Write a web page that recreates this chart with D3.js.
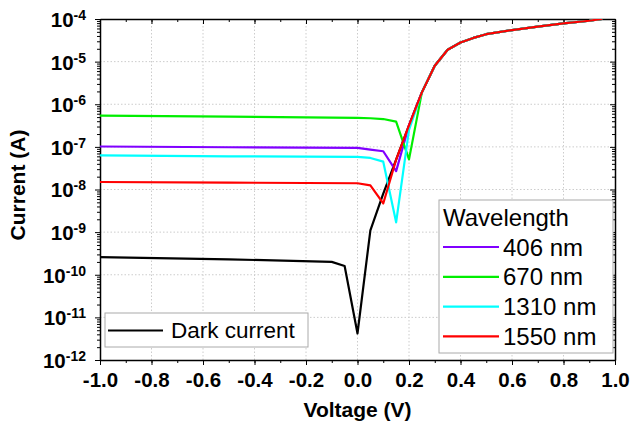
<!DOCTYPE html>
<html>
<meta charset="utf-8">
<title>I-V curves</title>
<style>
	body { margin: 0; background: #fff; }
	text { font-family: "Liberation Sans", Arial, sans-serif; }
	.tick text { font-weight: bold; font-size: 20.5px; fill: #000; }
	.axis path, .axis line { stroke: #000; }
	.grid line { stroke: #ccc; stroke-dasharray: 1.5 2; stroke-width: 1; }
	.curve { fill: none; stroke-width: 2.2; stroke-linejoin: round; }
</style>
<body>
<script src="https://cdn.jsdelivr.net/npm/d3@7"></script>
<script>
	// forward bias part shared by all curves
	var tailV = [0.25, 0.3, 0.35, 0.4, 0.45, 0.5, 0.6, 0.7, 0.8, 0.9, 0.95];
	var tailI = [1.9e-6, 8e-6, 1.9e-5, 2.8e-5, 3.6e-5, 4.4e-5, 5.5e-5, 6.6e-5, 7.9e-5, 9.1e-5, 1e-4];

	var darkV = [-1, -0.5, -0.1, -0.05, 0, 0.05, 0.1, 0.15, 0.2];
	var darkI = [2.6e-10, 2.3e-10, 2.0e-10, 1.6e-10, 4.2e-12, 1.1e-9, 8e-9, 5e-8, 3.2e-7];

	var v406 = [-1, -0.5, 0, 0.05, 0.1, 0.15, 0.2];
	var i406 = [1.02e-7, 9.8e-8, 9.5e-8, 8.6e-8, 7.9e-8, 2.7e-8, 3.2e-7];

	var v670 = [-1, -0.5, 0, 0.05, 0.1, 0.15, 0.2];
	var i670 = [5.4e-7, 5.1e-7, 4.8e-7, 4.7e-7, 4.5e-7, 3.9e-7, 5.1e-8];

	var v1310 = [-1, -0.5, 0, 0.05, 0.1, 0.15, 0.2];
	var i1310 = [6.3e-8, 6.0e-8, 5.8e-8, 5.5e-8, 4.5e-8, 1.7e-9, 2.5e-7];

	var v1550 = [-1, -0.5, 0, 0.05, 0.1, 0.15, 0.2];
	var i1550 = [1.5e-8, 1.45e-8, 1.4e-8, 1.25e-8, 4.7e-9, 5e-8, 3.2e-7];

	var seriesNames = ["406 nm", "670 nm", "1310 nm", "1550 nm"];
	var seriesColors = ["#8000ff", "#00ee00", "#00ffff", "#ff0000"];

	var xTicks = [-1, -0.8, -0.6, -0.4, -0.2, 0, 0.2, 0.4, 0.6, 0.8, 1];
	var yExps = [-12, -11, -10, -9, -8, -7, -6, -5, -4];

	var margin = { top: 19, right: 17, bottom: 65, left: 100 },
		width = 632 - margin.left - margin.right,
		height = 425 - margin.top - margin.bottom;

	var svg = d3.select("body").append("svg")
		.attr("width", 632)
		.attr("height", 425);
	var g = svg.append("g")
		.attr("transform", "translate(" + margin.left + "," + margin.top + ")");

	var x = d3.scaleLinear().domain([-1, 1]).range([0, width]);
	var y = d3.scaleLog().domain([1e-12, 1e-4]).range([height, 0]);

	var minorX = d3.range(-10, 11).map(function (d) { return d / 10; });
	var minorY = [];
	yExps.slice(0, -1).forEach(function (e) {
		for (var k = 2; k <= 9; k++) minorY.push(k * Math.pow(10, e));
	});
	var majorY = yExps.map(function (e) { return Math.pow(10, e); });

	// grid
	g.append("g").attr("class", "grid")
		.selectAll("line").data(xTicks.slice(1, -1)).enter().append("line")
		.attr("x1", function (d) { return x(d); }).attr("x2", function (d) { return x(d); })
		.attr("y1", 0).attr("y2", height);
	g.append("g").attr("class", "grid")
		.selectAll("line").data(majorY.slice(1, -1)).enter().append("line")
		.attr("y1", function (d) { return y(d); }).attr("y2", function (d) { return y(d); })
		.attr("x1", 0).attr("x2", width);

	// minor ticks
	function minor(axis, sel) {
		sel.call(axis).call(function (s) {
			s.select(".domain").remove();
			s.selectAll("text").remove();
		});
	}
	minor(d3.axisBottom(x).tickValues(minorX).tickSize(3), g.append("g").attr("class", "axis").attr("transform", "translate(0," + height + ")"));
	minor(d3.axisTop(x).tickValues(minorX).tickSize(-3), g.append("g").attr("class", "axis"));
	minor(d3.axisLeft(y).tickValues(minorY).tickSize(3), g.append("g").attr("class", "axis"));
	minor(d3.axisRight(y).tickValues(minorY).tickSize(-3), g.append("g").attr("class", "axis").attr("transform", "translate(" + width + ",0)"));

	// major axes
	g.append("g").attr("class", "axis")
		.attr("transform", "translate(0," + height + ")")
		.call(d3.axisBottom(x).tickValues(xTicks).tickSize(5).tickSizeOuter(0).tickPadding(7)
			.tickFormat(function (d) { return d.toFixed(1); }));
	g.append("g").attr("class", "axis")
		.call(d3.axisTop(x).tickValues(xTicks).tickSize(-5).tickSizeOuter(0).tickFormat(""));
	var yAxis = g.append("g").attr("class", "axis")
		.call(d3.axisLeft(y).tickValues(majorY).tickSize(5).tickSizeOuter(0).tickPadding(9)
			.tickFormat(function () { return ""; }));
	g.append("g").attr("class", "axis")
		.attr("transform", "translate(" + width + ",0)")
		.call(d3.axisRight(y).tickValues(majorY).tickSize(-5).tickSizeOuter(0).tickFormat(""));
	g.selectAll(".axis .domain").attr("stroke-width", 1.5);

	yAxis.selectAll(".tick text").each(function (d) {
		var t = d3.select(this).attr("dy", "0.36em");
		t.append("tspan").text("10");
		t.append("tspan").attr("dy", "-0.5em").style("font-size", "14px")
			.text(String(Math.round(Math.log10(d))));
	});

	// curves
	var line = d3.line()
		.x(function (d) { return x(d[0]); })
		.y(function (d) { return y(d[1]); });

	function pts(v, i) {
		return v.map(function (d, k) { return [d, i[k]]; })
			.concat(tailV.map(function (d, k) { return [d, tailI[k]]; }));
	}

	var curves = [
		{ data: pts(darkV, darkI), color: "#000" },
		{ data: pts(v406, i406), color: seriesColors[0] },
		{ data: pts(v670, i670), color: seriesColors[1] },
		{ data: pts(v1310, i1310), color: seriesColors[2] },
		{ data: pts(v1550, i1550), color: seriesColors[3] }
	];

	g.append("clipPath").attr("id", "clip").append("rect")
		.attr("width", width).attr("height", height);

	g.append("g").attr("clip-path", "url(#clip)")
		.selectAll("path").data(curves).enter().append("path")
		.attr("class", "curve")
		.attr("stroke", function (d) { return d.color; })
		.attr("d", function (d) { return line(d.data); });

	// axis titles
	svg.append("text")
		.attr("x", margin.left + x(0)).attr("y", 417)
		.attr("text-anchor", "middle")
		.style("font-weight", "bold").style("font-size", "21px")
		.text("Voltage (V)");
	svg.append("text")
		.attr("transform", "translate(25,185) rotate(-90)")
		.attr("text-anchor", "middle")
		.style("font-weight", "bold").style("font-size", "21px")
		.text("Current (A)");

	// dark current legend
	var leg1 = svg.append("g").attr("transform", "translate(105,313)");
	leg1.append("rect").attr("width", 203).attr("height", 34)
		.attr("fill", "#fff").attr("stroke", "#aaa");
	leg1.append("line").attr("x1", 3).attr("x2", 58).attr("y1", 17.5).attr("y2", 17.5)
		.attr("stroke", "#000").attr("stroke-width", 2.2);
	leg1.append("text").attr("x", 66).attr("y", 25).style("font-size", "22.5px").text("Dark current");

	// wavelength legend
	var leg2 = svg.append("g").attr("transform", "translate(439,200)");
	leg2.append("rect").attr("width", 174).attr("height", 153)
		.attr("fill", "#fff").attr("stroke", "#aaa");
	leg2.append("text").attr("x", 4).attr("y", 26).style("font-size", "24px").text("Wavelength");
	var item = leg2.selectAll(".item").data(seriesNames).enter().append("g")
		.attr("transform", function (d, k) { return "translate(0," + (47 + k * 29.8) + ")"; });
	item.append("line").attr("x1", 4).attr("x2", 60)
		.attr("stroke", function (d, k) { return seriesColors[k]; }).attr("stroke-width", 2.2);
	item.append("text").attr("x", 64).attr("y", 8.5).style("font-size", "24px").text(function (d) { return d; });
</script>
</body>
</html>
